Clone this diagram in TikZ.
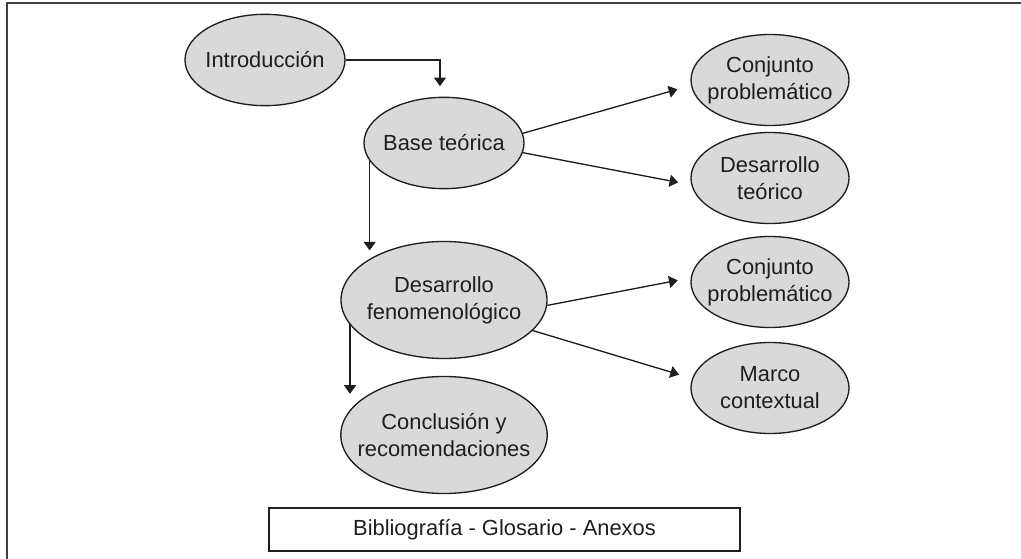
\documentclass[tikz,border=0pt]{standalone}
\usepackage{fontspec}
\setmainfont{Liberation Sans}
\usetikzlibrary{shapes.geometric,arrows.meta,backgrounds}
\definecolor{bubfill}{RGB}{217,217,217}
\definecolor{ink}{RGB}{30,30,30}
\begin{document}
\begin{tikzpicture}[x=0.75pt,y=-0.75pt,
  every node/.style={font=\fontsize{16.4pt}{20.25pt}\selectfont, text=ink},
  bub/.style={ellipse, draw=ink, line width=1pt, fill=bubfill, inner xsep=-10pt, inner ysep=0pt, align=center},
  onebub/.style={bub, minimum width=120pt, minimum height=68.5pt},
  bigbub/.style={bub, minimum width=154.5pt, minimum height=87.75pt},
  sidebub/.style={bub, minimum width=118.5pt, minimum height=68.25pt},
  arr/.style={draw=ink, line width=1pt, -{Triangle[width=9pt,length=6.5pt]}},
  framebox/.style={draw=ink, line width=1pt, minimum width=353.25pt, minimum height=32.25pt, inner sep=0pt},
  frameline/.style={draw=ink!85, line width=1.5pt}]
\useasboundingbox (0,0) rectangle (1021,559);
\draw[frameline] (7,559) -- (7,3) -- (1021,3);

\node[onebub] (intro) at (265,60) {Introducción};
\node[onebub] (base) at (444,143) {Base teórica};
\node[bigbub] (feno) at (444,300) {Desarrollo\\fenomenológico};
\node[bigbub] (conc) at (444,435) {Conclusión y\\recomendaciones};
\node[sidebub] (cp1) at (770,80) {Conjunto\\problemático};
\node[sidebub] (dt) at (770,178) {Desarrollo\\teórico};
\node[sidebub] (cp2) at (770,282) {Conjunto\\problemático};
\node[sidebub] (mc) at (770,388) {Marco\\contextual};
\node[framebox] (bib) at (504.5,529.5) {Bibliografía - Glosario - Anexos};

\draw[arr, shorten >=7.9pt] (intro.east) -| (base.95);
\begin{scope}[on background layer]
  \draw[arr, shorten >=6.2pt] (base.center -| feno.151) -- (feno.151);
  \draw[arr, shorten >=12pt] (feno.center -| conc.165) -- (conc.165);
\end{scope}
\draw[arr, shorten >=10.5pt] (base.7) -- (cp1.184);
\draw[arr, shorten >=9.9pt] (base.-7) -- (dt.185);
\draw[arr, shorten >=9.9pt] (feno.-3) -- (cp2.177);
\draw[arr, shorten >=10.2pt] (feno.-19) -- (mc.173);
\end{tikzpicture}
\end{document}
